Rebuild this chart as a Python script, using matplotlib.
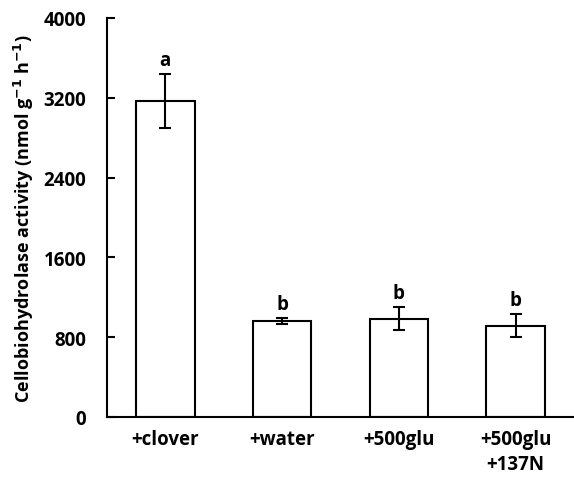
import matplotlib
matplotlib.use("Agg")
import matplotlib.pyplot as plt

categories = ["+clover", "+water", "+500glu", "+500glu\n+137N"]
means = [3165, 965, 985, 915]
errors = [270, 30, 115, 118]
letters = ["a", "b", "b", "b"]

plt.rcParams["font.family"] = ["Open Sans", "DejaVu Sans"]
plt.rcParams["font.weight"] = "bold"

fig = plt.figure(figsize=(5.74, 4.81), dpi=100)
ax = fig.add_axes([0.1864, 0.131, 0.8136, 0.8295])

x = range(len(categories))
ax.bar(x, means, width=0.5, color="white", edgecolor="black", linewidth=1.5,
       yerr=errors, capsize=4, error_kw=dict(elinewidth=1.5, capthick=1.5, ecolor="black"))

for i, (m, e, lab) in enumerate(zip(means, errors, letters)):
    ax.annotate(lab, (i, m + e), xytext=(0, 3), textcoords="offset points",
                ha="center", va="bottom", fontsize=13.5, fontweight="bold")

ax.set_xlim(-0.5, 3.5)
ax.set_ylim(0, 4000)
ax.set_yticks([0, 800, 1600, 2400, 3200, 4000])
ax.set_xticks(list(x))
ax.set_xticklabels(categories, fontsize=13.5, fontweight="bold", linespacing=1.3)
ax.tick_params(axis="y", direction="in", length=6, width=1.5, labelsize=13.5, pad=15)
ax.tick_params(axis="x", length=0, pad=9)
for lab in ax.get_yticklabels():
    lab.set_fontweight("bold")

ax.spines["top"].set_visible(False)
ax.spines["right"].set_visible(False)
ax.spines["left"].set_linewidth(1.5)
ax.spines["bottom"].set_linewidth(1.5)

ax.set_ylabel("Cellobiohydrolase activity (nmol g$^{\\mathbf{-1}}$ h$^{\\mathbf{-1}}$)",
              fontsize=13, fontweight="bold", labelpad=5)

fig.savefig("out.png", dpi=100)
